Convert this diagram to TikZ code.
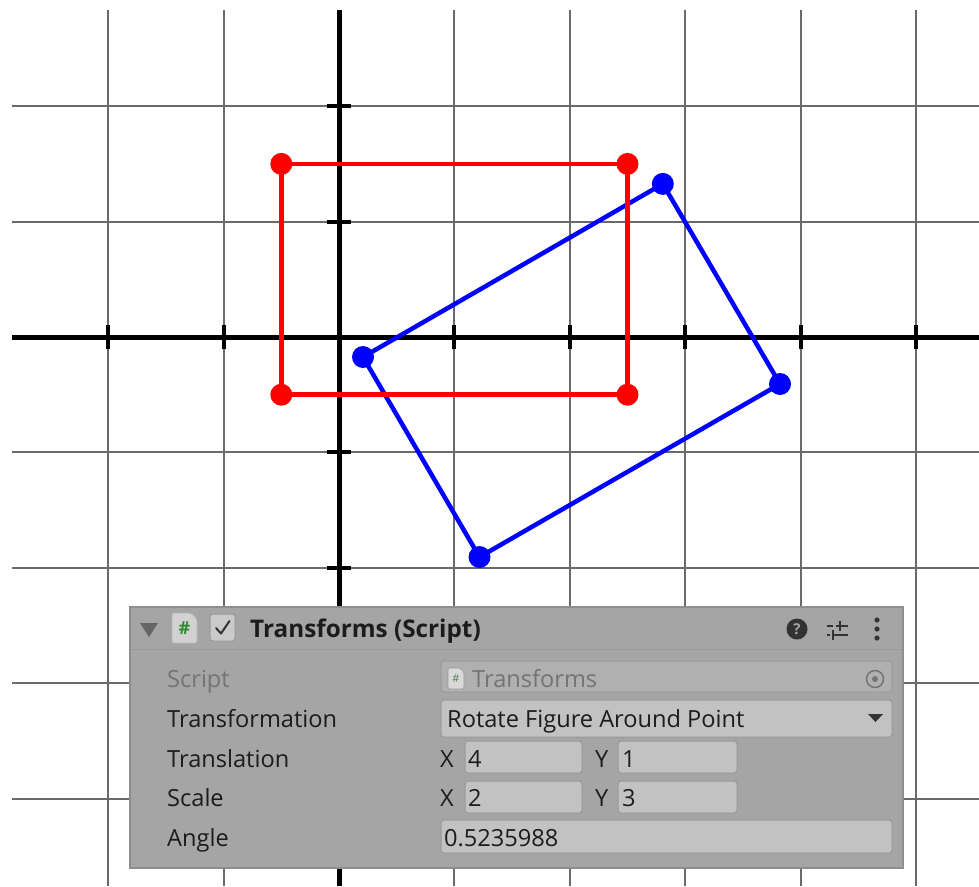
\documentclass[tikz,border=0pt]{standalone}
\usepackage{fontspec}
\setmainfont{Open Sans}
\definecolor{gridgray}{HTML}{6A6A6A}
\definecolor{panelfill}{HTML}{A5A5A5}
\definecolor{panelborder}{HTML}{8E8E8E}
\definecolor{fieldfill}{HTML}{C2C2C2}
\definecolor{fieldborder}{HTML}{999999}
\definecolor{disfill}{HTML}{B0B0B0}
\definecolor{distext}{HTML}{747474}
\definecolor{labeltext}{HTML}{1C1C1C}
\definecolor{icondark}{HTML}{333333}
\definecolor{triangray}{HTML}{656565}
\definecolor{iconfill}{HTML}{D2D2D2}
\definecolor{checkfill}{HTML}{CACACA}
\definecolor{hashgreen}{HTML}{2F8A2F}
\definecolor{pureblue}{HTML}{0000FF}
\definecolor{purered}{HTML}{FF0000}
\tikzset{
  gridline/.style={draw=gridgray, line width=2pt},
  axisline/.style={draw=black, line width=5pt},
  tickmark/.style={draw=black, line width=4pt},
  redline/.style={draw=purered, line width=4.5pt},
  blueline/.style={draw=pureblue, line width=4.5pt},
  reddot/.style={circle, fill=purered, inner sep=0pt, minimum size=22pt},
  bluedot/.style={circle, fill=pureblue, inner sep=0pt, minimum size=22pt},
  field/.style={draw=fieldborder, fill=fieldfill, rounded corners=3pt, line width=1pt},
  disfield/.style={draw=fieldborder, fill=disfill, rounded corners=3pt, line width=1pt},
  lbl/.style={anchor=base west, inner sep=0pt, font=\fontsize{23.6}{26}\selectfont, text=labeltext},
  dislbl/.style={lbl, text=distext},
  titlelbl/.style={anchor=base west, inner sep=0pt, font=\fontsize{24.3}{27}\selectfont\bfseries, text=labeltext},
}
\begin{document}
\begin{tikzpicture}[x=1pt,y=-1pt]
\useasboundingbox[fill=white] (0,0) rectangle (979,886);
% grid
\foreach \gx in {108.2,223.6,454.4,569.8,685.2,800.6,916} {
  \draw[gridline] (\gx,10) -- (\gx,886);
}
\foreach \gy in {106.2,221.6,452.4,567.8,683.2,798.6} {
  \draw[gridline] (12,\gy) -- (979,\gy);
}
% axes
\coordinate (xl) at (12,337);
\coordinate (xr) at (979,337);
\coordinate (yt) at (339,10);
\coordinate (yb) at (339,886);
\draw[axisline] (xl) -- (xr);
\draw[axisline] (yt) -- (yb);
\foreach \gx in {108.2,223.6,454.4,569.8,685.2,800.6,916} {
  \draw[tickmark] (\gx,325) -- (\gx,349);
}
\foreach \gy in {106.2,221.6,452.4,567.8} {
  \draw[tickmark] (327,\gy) -- (351,\gy);
}
% blue figure
\coordinate (b1) at (363.0,357.0);
\coordinate (b2) at (662.8,183.9);
\coordinate (b3) at (780.0,384.0);
\coordinate (b4) at (479.5,557.0);
\draw[blueline, line join=round] (b1) -- (b2) -- (b3) -- (b4) -- cycle;
% red figure
\coordinate (r1) at (281.3,163.9);
\coordinate (r2) at (627.5,163.9);
\coordinate (r3) at (627.5,394.7);
\coordinate (r4) at (281.3,394.7);
\draw[redline, line join=round] (r1) -- (r2) -- (r3) -- (r4) -- cycle;
\foreach \p in {r1,r2,r3,r4} { \node[reddot] (d\p) at (\p) {}; }
\foreach \p in {b1,b2,b3,b4} { \node[bluedot] (d\p) at (\p) {}; }
% panel
\path[fill=panelfill, draw=panelborder, line width=1.2pt] (130,607) rectangle (903,868);
\draw[draw=fieldborder, line width=1pt] (131,649.5) -- (902,649.5);
% header
\fill[triangray] (140,623) -- (158,623) -- (149,637) -- cycle;
\path[fill=iconfill, draw=fieldborder!70!white, line width=0.8pt, rounded corners=2pt] (172,613) -- (191,613) -- (197,619) -- (197,643) -- (172,643) -- cycle;
\node[inner sep=0pt, font=\fontsize{18}{18}\selectfont\bfseries, text=hashgreen] (hashicon) at (184.5,628.5) {\#};
\path[field, fill=checkfill] (210,614) rectangle (235,641);
\draw[icondark, line width=2pt, line cap=round, line join=round] (216,628) -- (221,633.5) -- (229.5,621);
\node[titlelbl] (title) at (250,637) {Transforms (Script)};
\fill[icondark] (797,629) circle (10.5);
\node[inner sep=0pt, font=\fontsize{15}{15}\selectfont\bfseries, text=panelfill] (helpq) at (797,629.5) {?};
\draw[icondark, line width=2pt] (827,625.5) -- (833,625.5);
\draw[icondark, line width=2pt] (836,625.5) -- (848,625.5);
\draw[icondark, line width=2pt] (840,620.5) -- (840,631);
\draw[icondark, line width=2pt] (827,635) -- (830,635);
\draw[icondark, line width=2pt] (833,635) -- (848,635);
\draw[icondark, line width=2pt] (833,629.5) -- (833,640);
\foreach \dy in {620,629,638} { \fill[icondark] (877,\dy) circle (2.6); }
% rows
\node[dislbl] (lscript) at (167,687) {Script};
\path[disfield] (441,661) rectangle (892,692);
\path[fill=gray!30!white, draw=fieldborder, line width=0.6pt, rounded corners=1.5pt] (448,668) -- (460,668) -- (464,672) -- (464,689) -- (448,689) -- cycle;
\node[inner sep=0pt, font=\fontsize{11}{11}\selectfont, text=hashgreen!60!gray] (hashsmall) at (456,679) {\#};
\node[dislbl] (vscript) at (472,687) {Transforms};
\draw[distext, line width=1.5pt] (875,679) circle (8.5);
\fill[distext] (875,679) circle (3);

\node[lbl] (ltrans) at (167,727) {Transformation};
\path[field] (441,700) rectangle (892,737);
\node[lbl] (vtrans) at (447,727) {Rotate Figure Around Point};
\fill[icondark] (868,714) -- (883,714) -- (875.5,722) -- cycle;

\node[lbl] (ltransl) at (167,767) {Translation};
\node[lbl] (tx) at (440,767) {X};
\path[field] (465,741) rectangle (582,773);
\node[lbl] (txv) at (468,767) {4};
\node[lbl] (ty) at (595,767) {Y};
\path[field] (618,741) rectangle (737,773);
\node[lbl] (tyv) at (622,767) {1};

\node[lbl] (lscale) at (167,806.5) {Scale};
\node[lbl] (sx) at (440,806.5) {X};
\path[field] (465,781) rectangle (582,813);
\node[lbl] (sxv) at (468,806.5) {2};
\node[lbl] (sy) at (595,806.5) {Y};
\path[field] (618,781) rectangle (737,813);
\node[lbl] (syv) at (622,806.5) {3};

\node[lbl] (langle) at (167,846) {Angle};
\path[field] (441,820) rectangle (892,853);
\node[lbl] (vangle) at (444,846) {0.5235988};
\end{tikzpicture}
\end{document}
